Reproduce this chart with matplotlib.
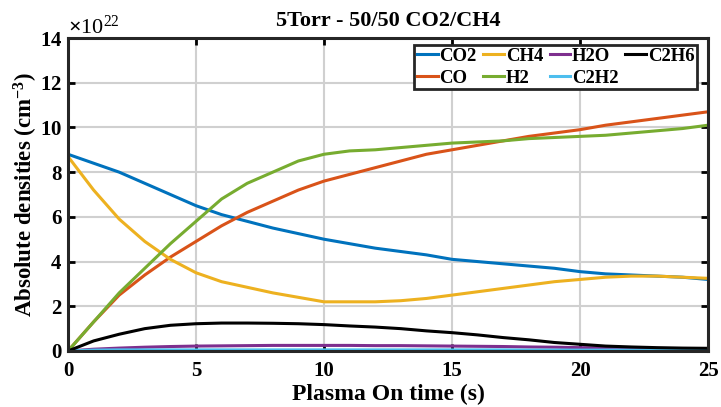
import numpy as np
import matplotlib
matplotlib.use("Agg")
import matplotlib.pyplot as plt
from matplotlib.ticker import ScalarFormatter

# time axis (s)
t = [0, 1, 2, 3, 4, 5, 6, 7, 8, 9, 10, 11, 12, 13, 14, 15, 16, 17, 18, 19, 20, 21, 22, 23, 24, 25]

# densities in units of 1e22 cm^-3
co2 = [8.8, 8.4, 8.0, 7.5, 7.0, 6.5, 6.1, 5.8, 5.5, 5.25, 5.0, 4.8, 4.6, 4.45, 4.3, 4.1, 4.0, 3.9, 3.8, 3.7, 3.55, 3.45, 3.4, 3.35, 3.3, 3.2]
co = [0.0, 1.3, 2.5, 3.4, 4.2, 4.9, 5.6, 6.2, 6.7, 7.2, 7.6, 7.9, 8.2, 8.5, 8.8, 9.0, 9.2, 9.4, 9.6, 9.75, 9.9, 10.1, 10.25, 10.4, 10.55, 10.7]
ch4 = [8.7, 7.2, 5.9, 4.9, 4.1, 3.5, 3.1, 2.85, 2.6, 2.4, 2.2, 2.2, 2.2, 2.25, 2.35, 2.5, 2.65, 2.8, 2.95, 3.1, 3.2, 3.3, 3.35, 3.35, 3.3, 3.25]
h2 = [0.0, 1.3, 2.6, 3.7, 4.8, 5.8, 6.8, 7.5, 8.0, 8.5, 8.8, 8.95, 9.0, 9.1, 9.2, 9.3, 9.35, 9.4, 9.5, 9.55, 9.6, 9.65, 9.75, 9.85, 9.95, 10.1]
h2o = [0.0, 0.08, 0.13, 0.17, 0.2, 0.22, 0.23, 0.24, 0.25, 0.25, 0.25, 0.25, 0.24, 0.24, 0.23, 0.22, 0.21, 0.2, 0.18, 0.17, 0.15, 0.14, 0.12, 0.11, 0.09, 0.08]
c2h2 = [0.0, 0.04, 0.05, 0.05, 0.05, 0.05, 0.05, 0.05, 0.05, 0.05, 0.05, 0.05, 0.05, 0.05, 0.05, 0.05, 0.05, 0.05, 0.04, 0.04, 0.04, 0.04, 0.04, 0.03, 0.03, 0.03]
c2h6 = [0.0, 0.45, 0.75, 1.0, 1.15, 1.22, 1.25, 1.25, 1.24, 1.22, 1.18, 1.12, 1.07, 1.0, 0.9, 0.82, 0.72, 0.6, 0.5, 0.38, 0.3, 0.22, 0.18, 0.15, 0.13, 0.12]

names = ["CO2", "CO", "CH4", "H2", "H2O", "C2H2", "C2H6"]
colors = ["#0072BD", "#D95319", "#EDB120", "#77AC30", "#7E2F8E", "#4DBEEE", "#000000"]
series = [co2, co, ch4, h2, h2o, c2h2, c2h6]
scale = 1e22

plt.rcParams['font.family'] = ['Liberation Serif', 'DejaVu Serif']
plt.rcParams['font.weight'] = 'bold'
plt.rcParams['mathtext.fontset'] = 'custom'
plt.rcParams['mathtext.rm'] = 'Liberation Serif:bold'
plt.rcParams['mathtext.it'] = 'Liberation Serif:bold'
plt.rcParams['mathtext.bf'] = 'Liberation Serif:bold'

fig = plt.figure(figsize=(7.21, 4.07), dpi=100)
ax = fig.add_axes([0.0943, 0.1376, 0.8877, 0.769])

tt = np.array(t)
for name, col, s in zip(names, colors, series):
    ax.plot(tt, np.array(s) * scale, color=col, lw=2.2, label=name)

ax.set_xlim(0, 25)
ax.set_ylim(0, 14e22)
ax.set_xticks([0, 5, 10, 15, 20, 25])
ax.set_yticks(np.arange(0, 15, 2) * 1e22)
fmt = ScalarFormatter(useMathText=True)
fmt.set_powerlimits((22, 22))
ax.yaxis.set_major_formatter(fmt)
ax.yaxis.get_offset_text().set_fontsize(16)
ax.yaxis.get_offset_text().set_fontweight('normal')

ax.grid(True, color='#d0d0d0', lw=1.5)
ax.tick_params(direction='in', length=5, width=2, labelsize=15, top=True, right=True)
ax.tick_params(axis='x', pad=7)
ax.tick_params(axis='y', pad=4)
for sp in ax.spines.values():
    sp.set_linewidth(2.2)
    sp.set_color('#262626')

ax.set_title("5Torr - 50/50 CO2/CH4", fontsize=16, fontweight='bold', pad=9)
ax.set_xlabel("Plasma On time (s)", fontsize=17, fontweight='bold', labelpad=2)
ax.set_ylabel("Absolute densities (cm$^{-3}$)", fontsize=16.5, fontweight='bold', labelpad=0)

leg = ax.legend(ncol=4, loc='upper right', bbox_to_anchor=(0.983, 0.978), fontsize=13.5,
                handlelength=1.1, handletextpad=0.1, columnspacing=0.35, labelspacing=0.25,
                borderpad=0.15, borderaxespad=0, fancybox=False, framealpha=1, edgecolor='#262626')
leg.get_frame().set_linewidth(2)
for tx in leg.get_texts():
    tx.set_fontweight('bold')

fig.savefig("out.png", dpi=100)
